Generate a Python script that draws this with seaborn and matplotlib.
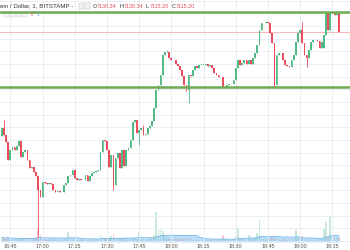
import matplotlib
matplotlib.use("Agg")
import matplotlib.pyplot as plt
from matplotlib.patches import Rectangle
import numpy as np
import pandas as pd
import seaborn as sns

# ---- data (1-minute BTC/USD candles) ----
opens = [
    7033.1, 7039.4, 7033.9, 7028.3, 7014.1, 7022.0, 7024.4, 7022.0, 7025.2, 7029.1,
    7016.5, 7020.4, 7022.0, 7014.1, 7007.8, 7008.6, 7004.6, 7001.5, 6990.4, 6984.9,
    6996.7, 6995.9, 6995.1, 6995.9, 6995.1, 6990.4, 6988.8, 6989.6, 6988.8, 6988.8,
    6994.3, 6995.9, 7001.5, 7002.3, 7006.2, 6999.9, 6998.3, 6999.1, 6998.3, 6998.3,
    7002.3, 6997.5, 7001.5, 7003.8, 7004.6, 7005.4, 7006.2, 7020.4, 7029.9, 7029.1,
    7022.0, 7008.6, 7018.1, 6994.3, 7015.7, 7019.6, 7007.8, 7022.0, 7009.4, 7022.0,
    7023.6, 7029.9, 7044.1, 7045.7, 7035.4, 7037.8, 7039.4, 7033.9, 7034.6, 7039.4,
    7041.0, 7044.9, 7055.2, 7069.4, 7073.4, 7081.3, 7097.0, 7099.4, 7099.4, 7094.7,
    7093.1, 7093.1, 7090.0, 7088.4, 7085.2, 7080.5, 7073.4, 7069.4, 7081.3, 7080.5,
    7085.2, 7088.4, 7086.8, 7089.2, 7089.2, 7089.2, 7090.0, 7088.4, 7089.2, 7086.8,
    7082.8, 7081.3, 7079.7, 7079.7, 7071.0, 7071.0, 7073.4, 7074.1, 7074.1, 7077.3,
    7086.8, 7093.1, 7089.2, 7090.7, 7093.1, 7090.0, 7093.1, 7090.0, 7094.7, 7098.6,
    7105.0, 7116.8, 7122.3, 7122.3, 7123.1, 7122.3, 7114.4, 7106.5, 7073.4, 7097.0,
    7098.6, 7098.6, 7093.1, 7089.2, 7088.4, 7087.6, 7093.1, 7097.0, 7107.3, 7114.4,
    7116.8, 7106.5, 7097.0, 7094.7, 7101.0, 7107.3, 7108.9, 7108.9, 7108.1, 7102.6,
    7102.6, 7112.9, 7130.2, 7116.8, 7130.2, 7130.2, 7128.7, 7130.34,
]
closes = [
    7039.4, 7033.9, 7028.3, 7014.1, 7022.0, 7024.4, 7022.0, 7025.2, 7029.1, 7016.5,
    7020.4, 7022.0, 7014.1, 7007.8, 7008.6, 7004.6, 7001.5, 6990.4, 6984.9, 6996.7,
    6995.9, 6995.1, 6995.9, 6995.1, 6990.4, 6988.8, 6989.6, 6988.8, 6988.8, 6994.3,
    6995.9, 7001.5, 7002.3, 7006.2, 6999.9, 6998.3, 6999.1, 6998.3, 6998.3, 7002.3,
    6997.5, 7001.5, 7003.8, 7004.6, 7005.4, 7006.2, 7020.4, 7029.9, 7029.1, 7022.0,
    7008.6, 7018.1, 6994.3, 7015.7, 7019.6, 7007.8, 7022.0, 7009.4, 7022.0, 7023.6,
    7029.9, 7044.1, 7045.7, 7035.4, 7037.8, 7039.4, 7033.9, 7034.6, 7039.4, 7041.0,
    7044.9, 7055.2, 7069.4, 7073.4, 7081.3, 7097.0, 7099.4, 7099.4, 7094.7, 7093.1,
    7093.1, 7090.0, 7088.4, 7085.2, 7080.5, 7073.4, 7069.4, 7081.3, 7080.5, 7085.2,
    7088.4, 7086.8, 7089.2, 7089.2, 7089.2, 7090.0, 7088.4, 7089.2, 7086.8, 7082.8,
    7081.3, 7079.7, 7079.7, 7071.0, 7071.0, 7073.4, 7074.1, 7074.1, 7077.3, 7086.8,
    7093.1, 7089.2, 7090.7, 7093.1, 7090.0, 7093.1, 7090.0, 7094.7, 7098.6, 7105.0,
    7116.8, 7122.3, 7122.3, 7123.1, 7122.3, 7114.4, 7106.5, 7073.4, 7097.0, 7098.6,
    7098.6, 7093.1, 7089.2, 7088.4, 7087.6, 7093.1, 7097.0, 7107.3, 7114.4, 7116.8,
    7106.5, 7097.0, 7094.7, 7101.0, 7107.3, 7108.9, 7108.9, 7108.1, 7102.6, 7107.3,
    7112.9, 7130.2, 7116.8, 7130.2, 7130.2, 7128.7, 7130.2, 7115.20,
]
volumes = [
    9, 8, 7, 10, 6, 5, 6, 5, 7, 8,
    6, 5, 7, 8, 6, 7, 10, 28, 14, 8,
    6, 5, 5, 6, 7, 6, 5, 4, 5, 7,
    6, 20, 6, 7, 6, 5, 4, 5, 4, 6,
    5, 6, 5, 4, 5, 6, 14, 10, 6, 8,
    9, 12, 16, 8, 6, 8, 7, 6, 8, 5,
    7, 9, 8, 7, 20, 6, 7, 5, 6, 7,
    8, 14, 60, 24, 26, 22, 12, 8, 9, 7,
    6, 7, 6, 8, 7, 9, 10, 8, 6, 5,
    5, 4, 4, 3, 4, 4, 5, 4, 5, 6,
    5, 6, 7, 14, 6, 5, 4, 5, 6, 12,
    28, 7, 6, 6, 5, 14, 6, 7, 9, 18,
    44, 12, 6, 5, 6, 9, 10, 12, 8, 6,
    5, 6, 7, 5, 6, 6, 7, 24, 8, 6,
    12, 7, 6, 5, 6, 5, 4, 5, 7, 6,
    28, 40, 10, 50, 12, 8, 9, 10,
]
# notable wicks, keyed by minutes after 16:45
wick_highs = {-3: 7045.7, 62: 7041.8, 73: 7101.0, 136: 7123.1, 153: 7130.34}
wick_lows = {13: 6953.3, 48: 6990.4, 60: 7025.9, 82: 7068.6, 83: 7059.1,
             123: 7071.8, 138: 7087.6, 153: 7115.20}
tick_labels = ["16:45", "17:00", "17:15", "17:30", "17:45", "18:00",
               "18:15", "18:30", "18:45", "19:00", "19:15"]
tick_minutes = [0, 15, 30, 45, 60, 75, 90, 105, 120, 135, 150]
level_lines = [7131.0, 7071.8]
last_price = 7115.20
header_name = "ein / Dollar, 1, BITSTAMP -"
ohlc_keys = ["O", "H", "L", "C"]
ohlc_values = ["7130.34", "7130.34", "7115.20", "7115.20"]

# ---- frame ----
minute = np.arange(-4, -4 + len(closes))  # minutes after 16:45 (first candle 16:41)
df = pd.DataFrame({"minute": minute, "open": opens, "close": closes, "volume": volumes})
df["high"] = df[["open", "close"]].max(axis=1)
df["low"] = df[["open", "close"]].min(axis=1)
for m, v in wick_highs.items():
    df.loc[df.minute == m, "high"] = v
for m, v in wick_lows.items():
    df.loc[df.minute == m, "low"] = v
df["up"] = df.close >= df.open
df["vol_ma"] = df.volume.rolling(20, min_periods=1).mean()

UP, DOWN = "#53b987", "#eb4d5c"
colors = np.where(df.up, UP, DOWN)

sns.set_style("white")
plt.rcParams["font.family"] = ["Liberation Sans", "DejaVu Sans"]

W, H = 350, 250
fig = plt.figure(figsize=(3.5, 2.5), dpi=100)
fig.patch.set_facecolor("white")
ax = fig.add_axes([0, 8 / H, 1, 242 / H])
ax2 = ax.twinx()
ax.set_zorder(2)
ax.patch.set_visible(False)
ax2.set_zorder(1)

ax.set_xlim(-4.8, 158.2)
ax.set_ylim(6949.3, 7140.5)

# grid
for t in tick_minutes:
    ax.axvline(t, color="#e6ecf2", lw=0.6, zorder=0)
for p in range(6950, 7141, 10):
    ax.axhline(p, color="#e6ecf2", lw=0.6, zorder=0)

# volume + MA
ax2.bar(df.minute, df.volume, width=0.8, color=colors, alpha=0.3, linewidth=0)
ax2.fill_between(df.minute, 0, df.vol_ma, color="#8ec8f0", alpha=0.6, linewidth=0)
sns.lineplot(x=df.minute, y=df.vol_ma, ax=ax2, color="#6bb3ea", lw=0.6)
ax2.set_ylim(0, 484)
ax2.set_yticks([])
ax2.set_ylabel("")
ax2.set_xlabel("")

# price lines
ax.axhline(last_price, color="#f6b9bd", lw=0.8, zorder=1)
for lv in level_lines:
    ax.axhline(lv, color="#6dab55", lw=1.8, zorder=5)

# candles
ax.vlines(df.minute, df.low, df.high, colors=colors, lw=0.6, zorder=3)
body_h = np.maximum((df.close - df.open).abs(), 0.7)
ax.bar(df.minute, body_h,
       bottom=df[["open", "close"]].min(axis=1) - (body_h - (df.close - df.open).abs()) / 2,
       width=0.8, color=colors, linewidth=0, zorder=4)

ax.set_xticks(tick_minutes)
ax.set_xticklabels(tick_labels)
ax.set_yticks([])
ax.tick_params(axis="x", length=0, pad=1.2, labelsize=3.9, labelcolor="#555555")
ax2.tick_params(axis="x", length=0, labelbottom=False)
for a in (ax, ax2):
    for s in a.spines.values():
        s.set_visible(False)
ax.set_xlabel("")
ax.set_ylabel("")

# header
def ftext(x, y, s, **kw):
    fig.text(x / W, 1 - y / H, s, va="center", ha="left", **kw)

ftext(0, 6, header_name, fontsize=4.4, color="#333333")
for bx in (79, 85):
    fig.add_artist(Rectangle((bx / W, 1 - 8.5 / H), 5 / W, 5 / H, transform=fig.transFigure,
                             facecolor="#f2f2f2", edgecolor="#bbbbbb", lw=0.3))
for i, (k, v) in enumerate(zip(ohlc_keys, ohlc_values)):
    x0 = 93 + 26.3 * i
    ftext(x0, 6, k, fontsize=3.9, color="#333333")
    ftext(x0 + 4.0, 6, v, fontsize=3.9, color="#e0505e")
for bx in (4, 10, 16, 22):
    fig.add_artist(Rectangle((bx / W, 1 - 16.5 / H), 4.5 / W, 4 / H, transform=fig.transFigure,
                             facecolor="#f4f4f4", edgecolor="#c8c8c8", lw=0.3))
ftext(31, 14.5, "0", fontsize=3.2, color="#e0505e")
ftext(37, 14.5, "1", fontsize=3.2, color="#3d8fe0")

fig.savefig("out.png", dpi=100, facecolor="white")
